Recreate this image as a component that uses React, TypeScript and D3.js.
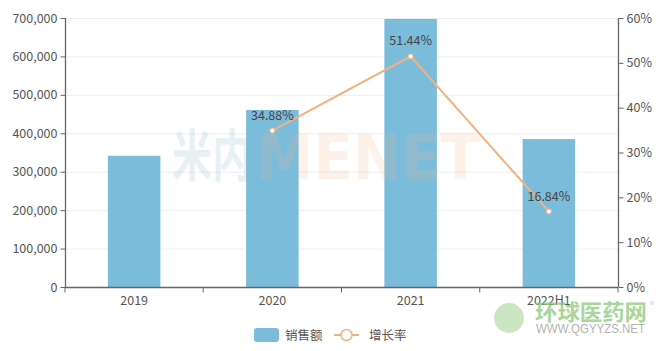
import React, { useEffect, useRef } from "react";
import * as d3 from "d3";

const categories = ["2019", "2020", "2021", "2022H1"];
const sales = [341500, 460600, 697500, 385000];
const growth: (number | null)[] = [null, 34.88, 51.44, 16.84];
const leftTicks = [0, 100000, 200000, 300000, 400000, 500000, 600000, 700000];
const rightTicks = [0, 10, 20, 30, 40, 50, 60];
const legendNames = ["销售额", "增长率"];

const W = 668, H = 351;
const M = { left: 65, right: 50, top: 18, bottom: 64 };
const BAR = "#7cbcdb";
const LINE = "#f2b27f";
const FONT = "'Noto Sans CJK SC', 'Noto Sans', sans-serif";

export default function App() {
  const ref = useRef<SVGSVGElement>(null);
  useEffect(() => {
    const svg = d3.select(ref.current!);
    svg.selectAll("*").remove();
    const x0 = M.left, x1 = W - M.right, y0 = H - M.bottom, y1 = M.top;
    const x = d3.scaleBand().domain(categories).range([x0, x1]).paddingInner(0.62).paddingOuter(0.31);
    const xc = d3.scaleBand().domain(categories).range([x0, x1]);
    const yL = d3.scaleLinear().domain([0, 700000]).range([y0, y1]);
    const yR = d3.scaleLinear().domain([0, 60]).range([y0, y1]);

    // grid
    svg.append("g").selectAll("line").data(leftTicks.slice(1)).join("line")
      .attr("x1", x0).attr("x2", x1).attr("y1", d => yL(d) + 0.5).attr("y2", d => yL(d) + 0.5)
      .attr("stroke", "#eeeeee");

    // bars
    svg.append("g").selectAll("rect").data(categories).join("rect")
      .attr("x", d => x(d)!).attr("width", x.bandwidth())
      .attr("y", (d, i) => yL(sales[i])).attr("height", (d, i) => y0 - yL(sales[i]))
      .attr("fill", BAR);

    // watermark (on top, faint)
    svg.append("text").attr("x", 256).attr("y", 179)
      .attr("font-family", "DejaVu Sans, sans-serif").attr("font-weight", "bold").attr("font-size", 62)
      .attr("textLength", 224).attr("lengthAdjust", "spacingAndGlyphs")
      .attr("fill", "#f3b98f").attr("opacity", 0.18).text("MENET");
    svg.append("text").attr("x", 172).attr("y", 176)
      .attr("font-family", FONT).attr("font-weight", "bold").attr("font-size", 56)
      .attr("textLength", 80).attr("lengthAdjust", "spacingAndGlyphs")
      .attr("fill", "#7fb3c8").attr("opacity", 0.18).text("米内");

    // left axis
    const gl = svg.append("g").attr("transform", `translate(${x0 + 0.5},0)`)
      .call(d3.axisLeft(yL).tickValues(leftTicks).tickSize(5).tickPadding(3).tickFormat(d3.format(",")));
    // right axis
    const gr = svg.append("g").attr("transform", `translate(${x1 + 0.5},0)`)
      .call(d3.axisRight(yR).tickValues(rightTicks).tickSize(5).tickPadding(3).tickFormat(d => d + "%"));
    // x axis
    const gx = svg.append("g").attr("transform", `translate(0,${y0 + 0.5})`)
      .call(d3.axisBottom(xc).tickSize(0).tickPadding(9));
    gx.append("g").selectAll("line").data(d3.range(categories.length + 1)).join("line")
      .attr("x1", i => x0 + i * xc.step()).attr("x2", i => x0 + i * xc.step())
      .attr("y1", 0).attr("y2", 5).attr("stroke", "#666");
    [gl, gr, gx].forEach(g => {
      g.selectAll(".domain").attr("stroke", "#666").attr("stroke-width", 1.3);
      g.selectAll(".tick line").attr("stroke", "#666");
      g.selectAll("text").attr("fill", "#555").attr("font-size", 12.5).attr("font-family", FONT);
    });
    gl.select(".domain").attr("d", `M0,${y1}V${y0}`);
    gr.select(".domain").attr("d", `M0,${y1}V${y0}`);
    gx.select(".domain").attr("d", `M${x0},0H${x1}`);

    // line
    const pts = categories.map((c, i) => ({ c, v: growth[i] })).filter(p => p.v != null) as { c: string; v: number }[];
    const cx = (c: string) => xc(c)! + xc.bandwidth() / 2;
    svg.append("path").datum(pts)
      .attr("d", d3.line<{ c: string; v: number }>().x(p => cx(p.c)).y(p => yR(p.v)))
      .attr("fill", "none").attr("stroke", LINE).attr("stroke-width", 2);
    svg.append("g").selectAll("circle").data(pts).join("circle")
      .attr("cx", p => cx(p.c)).attr("cy", p => yR(p.v)).attr("r", 2.5)
      .attr("fill", "#fff").attr("stroke", LINE).attr("stroke-width", 1);
    svg.append("g").selectAll("text").data(pts).join("text")
      .attr("x", p => cx(p.c)).attr("y", p => yR(p.v) - 11).attr("text-anchor", "middle")
      .attr("font-family", FONT).attr("font-size", 12.5).attr("fill", "#444")
      .text(p => p.v.toFixed(2) + "%");

    // legend
    const lg = svg.append("g");
    lg.append("rect").attr("x", 254).attr("y", 328).attr("width", 25).attr("height", 14).attr("rx", 3).attr("fill", BAR);
    lg.append("text").attr("x", 285).attr("y", 340).attr("font-family", FONT).attr("font-size", 12.5).attr("fill", "#555").text(legendNames[0]);
    lg.append("line").attr("x1", 334).attr("x2", 359).attr("y1", 335).attr("y2", 335).attr("stroke", LINE).attr("stroke-width", 2);
    lg.append("circle").attr("cx", 346.5).attr("cy", 335).attr("r", 5.5).attr("fill", "#fff").attr("stroke", LINE).attr("stroke-width", 1.5);
    lg.append("text").attr("x", 369).attr("y", 340).attr("font-family", FONT).attr("font-size", 12.5).attr("fill", "#555").text(legendNames[1]);

    // bottom-right watermark
    const wm = svg.append("g").attr("opacity", 0.75);
    wm.append("circle").attr("cx", 509).attr("cy", 318).attr("r", 15).attr("fill", "#9fcf8f").attr("opacity", 0.7);
    wm.append("text").attr("x", 535).attr("y", 320).attr("font-family", FONT).attr("font-weight", "bold")
      .attr("font-size", 22).attr("textLength", 112).attr("lengthAdjust", "spacingAndGlyphs")
      .attr("fill", "#8cc97a").text("环球医药网");
    wm.append("text").attr("x", 536).attr("y", 333).attr("font-family", "'Liberation Sans', sans-serif")
      .attr("font-size", 12).attr("textLength", 109).attr("lengthAdjust", "spacingAndGlyphs")
      .attr("fill", "#999").text("WWW.QGYYZS.NET");
    wm.append("text").attr("x", 650).attr("y", 308).attr("font-family", FONT)
      .attr("font-size", 9).attr("fill", "#bbb").text("®");
  }, []);
  return (
    <svg ref={ref} width={W} height={H}
      style={{ position: "fixed", left: 0, top: 0, background: "#fff", display: "block" }} />
  );
}
